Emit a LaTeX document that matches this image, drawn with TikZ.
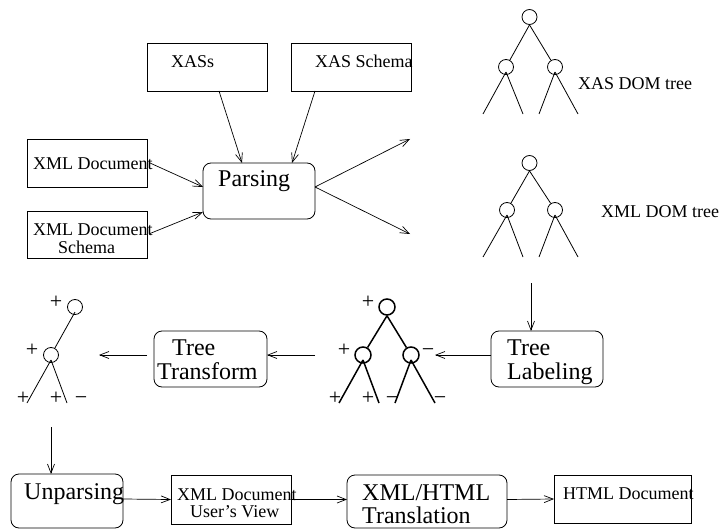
\documentclass[tikz,border=0pt]{standalone}
\usepackage{fontspec}
\setmainfont{Liberation Serif}
\usetikzlibrary{arrows.meta}
\begin{document}
\begin{tikzpicture}[x=1pt,y=-1pt,
  box/.style={draw, rectangle, inner sep=0pt, outer sep=0pt, line width=0.8pt},
  rbox/.style={box, rounded corners=8pt},
  txt/.style={anchor=base west, inner sep=0pt, font=\fontsize{18}{20}\selectfont},
  big/.style={anchor=base west, inner sep=0pt, font=\fontsize{24}{26}\selectfont},
  arr/.style={-{Straight Barb[length=9pt,width=7pt]}, line width=0.7pt},
  nd/.style={circle, draw, minimum size=15pt, inner sep=0pt, line width=0.8pt},
  bnd/.style={nd, minimum size=16pt, line width=1.5pt},
  edge/.style={line width=0.8pt},
  bedge/.style={line width=1.5pt},
  sg/.style={anchor=base, inner sep=0pt, font=\fontsize{22}{24}\selectfont},
  ]
\useasboundingbox (0,0) rectangle (719,529);

% boxes
\node[box, minimum width=120pt, minimum height=48pt] (xass) at (207,67) {};
\node[box, minimum width=120pt, minimum height=48pt] (xassch) at (351,67) {};
\node[box, minimum width=120pt, minimum height=48pt] (xmld) at (87,163) {};
\node[box, minimum width=120pt, minimum height=47pt] (xmlds) at (87,234.5) {};
\node[rbox, minimum width=112pt, minimum height=56pt] (parse) at (259,191) {};
\node[rbox, minimum width=112pt, minimum height=56pt] (label) at (547,359) {};
\node[rbox, minimum width=113pt, minimum height=56pt] (transf) at (210.5,359) {};
\node[rbox, minimum width=112pt, minimum height=54pt] (unparse) at (67,501) {};
\node[box, minimum width=120pt, minimum height=49pt] (uview) at (231,499.5) {};
\node[rbox, minimum width=160pt, minimum height=53pt] (trans) at (427,501.5) {};
\node[box, minimum width=137pt, minimum height=48pt] (html) at (622.5,499) {};

% texts
\node[txt] (t1) at (171,68) {XASs};
\node[txt] (t2) at (315,68) {XAS Schema};
\node[txt] (t3) at (33,170) {XML Document};
\node[txt] (t4) at (33,235) {XML Document};
\node[txt] (t5) at (58,253) {Schema};
\node[big] (t6) at (218,187) {Parsing};
\node[txt] (t7) at (578,90) {XAS DOM tree};
\node[txt] (t8) at (601,218) {XML DOM tree};
\node[big] (t9) at (507,355) {Tree};
\node[big] (t10) at (507,379) {Labeling};
\node[big] (t11) at (172,355) {Tree};
\node[big] (t12) at (157,379) {Transform};
\node[big] (t13) at (24,499) {Unparsing};
\node[txt] (t14) at (177,500) {XML Document};
\node[txt] (t15) at (190,517) {User’s View};
\node[big] (t16) at (362,500) {XML/HTML};
\node[big] (t17) at (362,523) {Translation};
\node[txt] (t18) at (563,499) {HTML Document};

% XAS DOM tree
\node[nd] (a0) at (529.5,17) {};
\node[nd] (a1) at (506,67) {};
\node[nd] (a2) at (555,67) {};
\draw[edge] (a0.south) -- (a1);
\draw[edge] (a0.south) -- (a2);
\coordinate (a11) at (483,114); \coordinate (a12) at (523,114);
\coordinate (a21) at (539,114); \coordinate (a22) at (578,114);
\draw[edge] ([yshift=-5pt]a1.center) -- (a11);
\draw[edge] ([yshift=-5pt]a1.center) -- (a12);
\draw[edge] ([yshift=-5pt]a2.center) -- (a21);
\draw[edge] ([yshift=-5pt]a2.center) -- (a22);

% XML DOM tree
\node[nd] (b0) at (529.5,163) {};
\node[nd] (b1) at (507,210) {};
\node[nd] (b2) at (555,210) {};
\draw[edge] (b0.south) -- (b1);
\draw[edge] (b0.south) -- (b2);
\coordinate (b11) at (483,257); \coordinate (b12) at (523,257);
\coordinate (b21) at (539,257); \coordinate (b22) at (578,257);
\draw[edge] ([yshift=-5pt]b1.center) -- (b11);
\draw[edge] ([yshift=-5pt]b1.center) -- (b12);
\draw[edge] ([yshift=-5pt]b2.center) -- (b21);
\draw[edge] ([yshift=-5pt]b2.center) -- (b22);

% labeled tree
\node[bnd] (c0) at (387,307) {};
\node[bnd] (c1) at (363,355) {};
\node[bnd] (c2) at (411,355) {};
\draw[bedge] (c0.south) -- (c1);
\draw[bedge] (c0.south) -- (c2);
\coordinate (c11) at (339,403); \coordinate (c12) at (379,403);
\coordinate (c21) at (395,403); \coordinate (c22) at (435,403);
\draw[bedge] ([yshift=-5pt]c1.center) -- (c11);
\draw[bedge] ([yshift=-5pt]c1.center) -- (c12);
\draw[bedge] ([yshift=-5pt]c2.center) -- (c21);
\draw[bedge] ([yshift=-5pt]c2.center) -- (c22);
\node[sg] (s1) at (368,308) {+};
\node[sg] (s2) at (344,356) {+};
\node[sg] (s3) at (428,356) {−};
\node[sg] (s4) at (335,404) {+};
\node[sg] (s5) at (368,404) {+};
\node[sg] (s6) at (392,404) {−};
\node[sg] (s7) at (440,404) {−};

% transformed tree
\node[nd] (d0) at (75,307) {};
\node[nd] (d1) at (51,355) {};
\draw[edge] ([yshift=-5pt]d0.center) -- (d1);
\coordinate (d11) at (27,403); \coordinate (d12) at (67,403);
\draw[edge] ([yshift=-5pt]d1.center) -- (d11);
\draw[edge] ([yshift=-5pt]d1.center) -- (d12);
\node[sg] (r1) at (56,308) {+};
\node[sg] (r2) at (32,356) {+};
\node[sg] (r3) at (23,404) {+};
\node[sg] (r4) at (56,404) {+};
\node[sg] (r5) at (81,404) {−};

% connectors
\coordinate (o1) at (410,139);
\coordinate (o2) at (410,234);
\coordinate (dl) at (531,283);
\coordinate (lt) at (435,355);
\coordinate (tl) at (315,355);
\coordinate (tt) at (99,355);
\coordinate (td) at (51,427);
\draw[arr] ([xshift=12pt]xass.south) -- ([xshift=-17pt]parse.north);
\draw[arr] ([xshift=-36pt]xassch.south) -- ([xshift=33pt]parse.north);
\draw[arr] ([xshift=3pt]xmld.east) -- ([yshift=4pt]parse.west);
\draw[arr] ([xshift=3pt,yshift=1pt]xmlds.east) -- ([yshift=-21pt]parse.west);
\draw[arr] ([yshift=4pt]parse.east) -- (o1);
\draw[arr] ([yshift=4pt]parse.east) -- (o2);
\draw[arr] (dl) -- ([xshift=-16pt]label.north);
\draw[arr] ([yshift=4pt]label.west) -- (lt);
\draw[arr] (tl) -- ([yshift=4pt]transf.east);
\draw[arr] ([xshift=-7pt,yshift=4pt]transf.west) -- (tt);
\draw[arr] (td) -- ([xshift=-16pt]unparse.north);
\draw[arr] ([yshift=2pt]unparse.east) -- (uview.west);
\draw[arr] (uview.east) -- ([yshift=2pt]trans.west);
\draw[arr] ([yshift=2pt]trans.east) -- (html.west);
\end{tikzpicture}
\end{document}
